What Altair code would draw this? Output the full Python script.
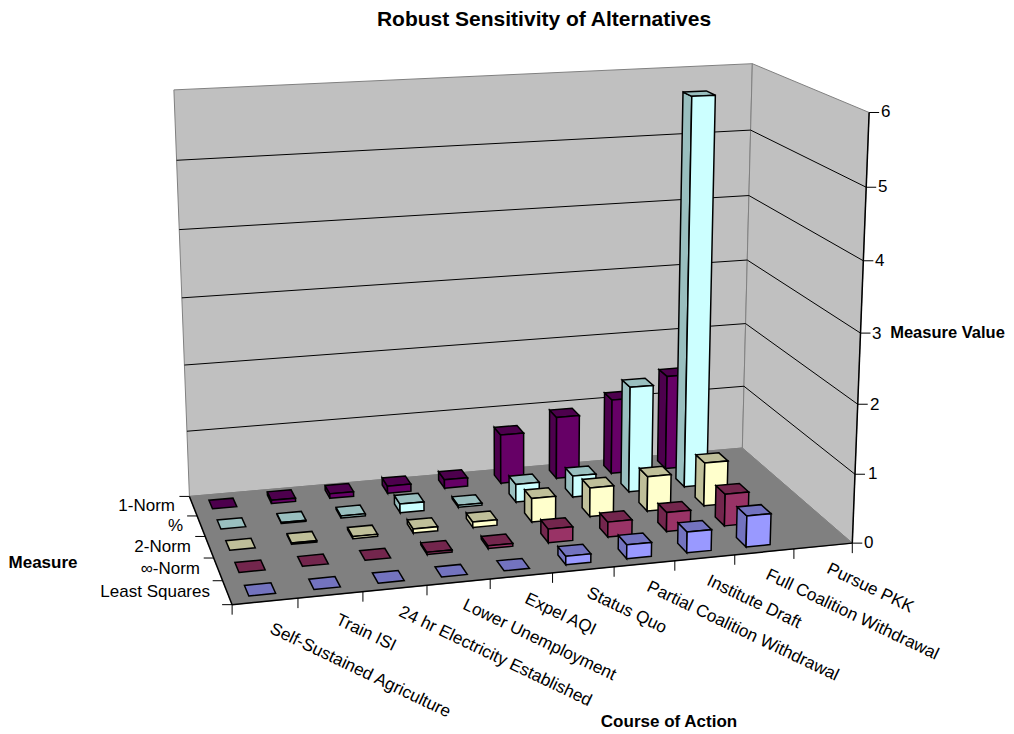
import numpy as np
import altair as alt
import pandas as pd

TITLE = "Robust Sensitivity of Alternatives"
categories = ["Self-Sustained Agriculture", "Train ISI", "24 hr Electricity Established",
              "Lower Unemployment", "Expel AQI", "Status Quo", "Partial Coalition Withdrawal",
              "Institute Draft", "Full Coalition Withdrawal", "Pursue PKK"]
measures = ["1-Norm", "%", "2-Norm", "∞-Norm", "Least Squares"]
y_ticks = [0, 1, 2, 3, 4, 5, 6]

one_norm = [0.0, 0.05, 0.07, 0.11, 0.13, 0.75, 0.95, 1.15, 1.45, None]
percent = [0.0, 0.015, 0.03, 0.13, 0.03, 0.27, 0.32, 1.6, 5.82, None]
two_norm = [0.0, 0.02, 0.03, 0.06, 0.08, 0.35, 0.43, 0.52, 0.65, None]
inf_norm = [0.0, 0.0, 0.0, 0.03, 0.04, 0.2, 0.22, 0.28, 0.47, None]
least_sq = [0.0, 0.0, 0.0, 0.0, 0.0, 0.12, 0.2, 0.3, 0.45, None]
series = [one_norm, percent, two_norm, inf_norm, least_sq]

front_col = ["#660066", "#CCFFFF", "#FFFFCC", "#993366", "#9999FF"]
shade_col = ["#4D004D", "#99BFBF", "#BFBF99", "#73264D", "#7373BF"]

# camera: (category fraction, depth fraction, value fraction) -> reference pixel
world = [(0,1,0),(1,1,0),(1,0,0),(0,0,0),(0,1,1),(1,1,1),(1,0,1),(1,0,1/6),(1,0,2/6),(1,0,5/6)]
image = [(189,496),(743,448),(852,543),(232.5,605),(174,90),(752,64),(869,112),(855,474),(857,405),(867,187)]
A = []
for (u,v,w),(sx,sy) in zip(world,image):
    A.append([u,v,w,1,0,0,0,0,-sx*u,-sx*v,-sx*w,-sx])
    A.append([0,0,0,0,u,v,w,1,-sy*u,-sy*v,-sy*w,-sy])
P = np.linalg.svd(np.array(A))[2][-1].reshape(3,4)

def proj(u,v,w):
    q = P @ np.array([u,v,w,1.0])
    return [float(q[0]/q[2]), float(q[1]/q[2])]

def face(pts, fill, stroke, sw):
    return {"type":"Feature","properties":{"fill":fill,"stroke":stroke,"sw":sw},
            "geometry":{"type":"Polygon","coordinates":[pts+[pts[0]]]}}

shell = [
    face([proj(0,1,0),proj(1,1,0),proj(1,1,1),proj(0,1,1)],"#C0C0C0","#808080",1.0),
    face([proj(1,1,0),proj(1,0,0),proj(1,0,1),proj(1,1,1)],"#C0C0C0","#808080",1.0),
    face([proj(0,0,0),proj(1,0,0),proj(1,1,0),proj(0,1,0)],"#808080","#808080",1.0),
]

BAR_W = 0.41
BAR_D = 0.44
EDGE = 1.5
nc, nm = len(categories), len(measures)
bars = []
for m in range(nm):                # back to front
    for c in range(nc-1,-1,-1):    # right to left
        val = series[m][c]
        if val is None:
            continue
        u0 = (c+0.5-BAR_W/2)/nc; u1 = (c+0.5+BAR_W/2)/nc
        vc = (nm-1-m+0.5)/nm
        v0 = vc-BAR_D/2/nm; v1 = vc+BAR_D/2/nm
        w = val/6
        if val > 0:
            bars.append(face([proj(u0,v0,0),proj(u0,v1,0),proj(u0,v1,w),proj(u0,v0,w)],shade_col[m],"#000000",EDGE))
        bars.append(face([proj(u0,v0,w),proj(u1,v0,w),proj(u1,v1,w),proj(u0,v1,w)],shade_col[m],"#000000",EDGE))
        if val > 0:
            bars.append(face([proj(u0,v0,0),proj(u1,v0,0),proj(u1,v0,w),proj(u0,v0,w)],front_col[m],"#000000",EDGE))

lines = []
def seg(a,b,c="#000000",sw=1.0):
    lines.append(dict(x=a[0],y=a[1],x2=b[0],y2=b[1],c=c,sw=sw))
for t in y_ticks[1:-1]:
    seg(proj(0,1,t/6),proj(1,1,t/6))
    seg(proj(1,1,t/6),proj(1,0,t/6))
grid = pd.DataFrame(lines); lines.clear()
seg(proj(0,0,0),proj(1,0,0),sw=1.5)
seg(proj(0,0,0),proj(0,1,0),sw=1.5)
seg(proj(1,0,0),proj(1,0,1),sw=1.5)
for k in range(nc+1):
    p = proj(k/nc,0,0); seg(p,(p[0],p[1]+10))
for k in range(nm+1):
    p = proj(0,k/nm,0); seg(p,(p[0]-10,p[1]))
for t in y_ticks:
    p = proj(1,0,t/6); seg(p,(p[0]+10,p[1]))
axes_df = pd.DataFrame(lines)

cat_lab = pd.DataFrame(dict(t=categories,
    x=[271,337,400,464,526,588,648,708,767,828],
    y=[628,619,611,604,598,592,586,580,574,568]))
row_lab = pd.DataFrame(dict(t=measures, x=[175,183,191,200,210], y=[506,526,547,569,592]))
val_lab = pd.DataFrame(dict(t=[str(v) for v in y_ticks], x=[864,868,870,872,875,878,881],
                            y=[543,474,405,334,261,187,112]))
title_lab = pd.DataFrame(dict(t=[TITLE], x=[544], y=[20.2]))
bold_lab = pd.DataFrame(dict(t=["Measure","Course of Action"], x=[43,669], y=[563,722]))
value_title = pd.DataFrame(dict(t=["Measure Value"], x=[947.5], y=[333]))

X = alt.X("x:Q", scale=alt.Scale(domain=[8,1006]), axis=None)
Y = alt.Y("y:Q", scale=alt.Scale(domain=[731,8]), axis=None)

def rules(df):
    return alt.Chart(df).mark_rule().encode(X, Y, x2="x2:Q", y2="y2:Q",
        color=alt.Color("c:N", scale=None), strokeWidth=alt.StrokeWidth("sw:Q", scale=None))

def shapes(features):
    return alt.Chart(alt.Data(values=features, format=alt.DataFormat(type="json"))).mark_geoshape().encode(
        fill=alt.Fill("properties.fill:N", scale=None),
        stroke=alt.Stroke("properties.stroke:N", scale=None),
        strokeWidth=alt.StrokeWidth("properties.sw:Q", scale=None),
    ).project(type="identity", scale=1, translate=[-8,-8])

F = "Liberation Sans"
def texts(df, **kw):
    return alt.Chart(df).mark_text(font=F, color="#000000", **kw).encode(X, Y, text="t:N")

chart = alt.layer(
    shapes(shell),
    rules(grid),
    rules(axes_df),
    shapes(bars),
    texts(cat_lab, fontSize=17.2, align="left", baseline="middle", angle=25.5),
    texts(row_lab, fontSize=17, align="right", baseline="middle"),
    texts(val_lab, fontSize=17, align="left", baseline="middle"),
    texts(title_lab, fontSize=21, fontWeight="bold", align="center", baseline="middle"),
    texts(bold_lab, fontSize=17, fontWeight="bold", align="center", baseline="middle"),
    texts(value_title, fontSize=16.5, fontWeight="bold", align="center", baseline="middle"),
).properties(width=998, height=723, padding=0, background="#FFFFFF",
             autosize=alt.AutoSizeParams(type="none")
).configure_view(stroke="transparent", strokeWidth=0)

chart.save("out.html", embed_options={"renderer": "svg", "actions": False})
